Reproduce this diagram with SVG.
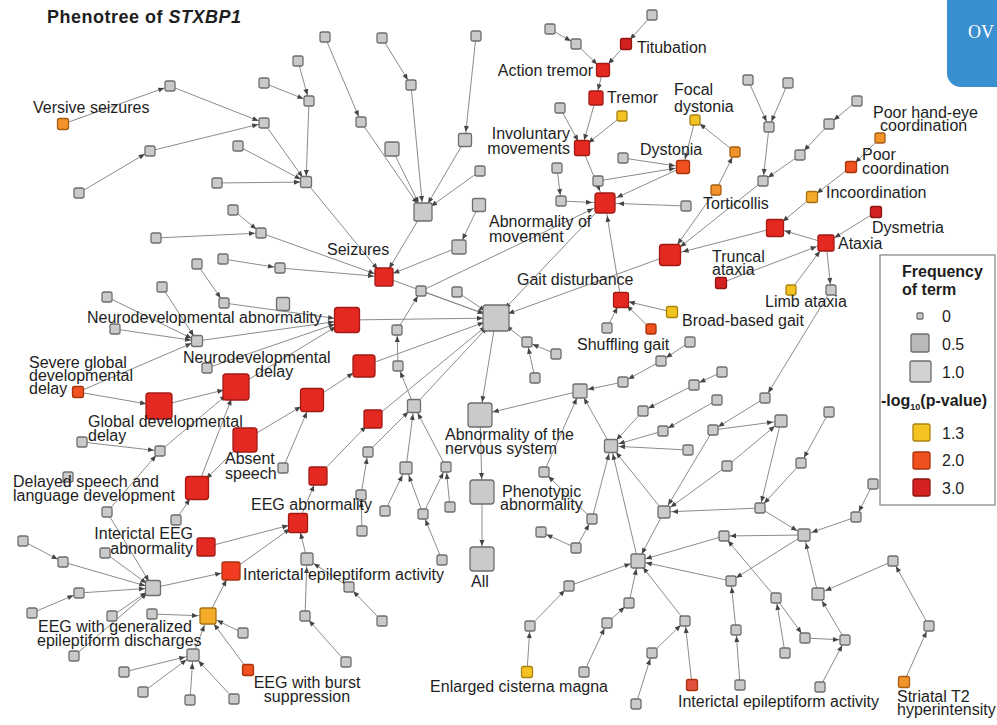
<svg xmlns="http://www.w3.org/2000/svg" width="997" height="725" viewBox="0 0 997 725">
<style>
.e line{stroke:#8c8c8c;stroke-width:1;fill:none}
.a5{marker-end:url(#m5)}.a7{marker-end:url(#m7)}.a9{marker-end:url(#m9)}.a12{marker-end:url(#m12)}
rect{stroke-width:1.3}
.g{fill:#cacaca;stroke:#6e6e6e}
.r{fill:#e42a20;stroke:#a31a14}
.rd{fill:#d42222;stroke:#8e1510}
.ro{fill:#f0521f;stroke:#a8320e}
.o{fill:#f2922a;stroke:#a85e12}
.oy{fill:#f4ab2a;stroke:#a87212}
.y{fill:#f4c322;stroke:#a88410}
.t{font-family:"Liberation Sans",Arial,Helvetica,sans-serif;font-size:16px;fill:#1e1e1e}
.tb{font-family:"Liberation Sans",Arial,Helvetica,sans-serif;font-size:16px;font-weight:bold;fill:#1e1e1e}
.end{text-anchor:end}
</style>
<defs>
<marker id="m5" markerUnits="userSpaceOnUse" markerWidth="6" markerHeight="5" refX="12" refY="2.5" orient="auto" overflow="visible"><path d="M0,0L6,2.5L0,5z" fill="#444"/></marker>
<marker id="m7" markerUnits="userSpaceOnUse" markerWidth="6" markerHeight="5" refX="14" refY="2.5" orient="auto" overflow="visible"><path d="M0,0L6,2.5L0,5z" fill="#444"/></marker>
<marker id="m9" markerUnits="userSpaceOnUse" markerWidth="6" markerHeight="5" refX="16" refY="2.5" orient="auto" overflow="visible"><path d="M0,0L6,2.5L0,5z" fill="#444"/></marker>
<marker id="m12" markerUnits="userSpaceOnUse" markerWidth="6" markerHeight="5" refX="19" refY="2.5" orient="auto" overflow="visible"><path d="M0,0L6,2.5L0,5z" fill="#444"/></marker>
</defs>
<rect x="0" y="0" width="997" height="725" fill="#ffffff"/>
<g id="badge"><rect x="947" y="-14" width="64" height="101" rx="14" fill="#3a8fcf" stroke="none"/><text x="968" y="38" style="font-family:'Liberation Serif',serif;font-size:18px;fill:#ffffff">OV</text></g>
<text x="47" y="23" class="tb" style="font-size:18px;letter-spacing:0.5px">Phenotree of <tspan font-style="italic">STXBP1</tspan></text>

<g id="edges" class="e">
<g class="a5">
<line x1="63" y1="124" x2="170" y2="86"/><line x1="170" y1="86" x2="264" y2="123"/><line x1="150" y1="151" x2="264" y2="123"/><line x1="79" y1="193" x2="150" y2="151"/>
<line x1="238" y1="146" x2="306" y2="182"/><line x1="217" y1="183" x2="306" y2="182"/><line x1="264" y1="123" x2="306" y2="182"/><line x1="309" y1="101" x2="306" y2="182"/>
<line x1="298" y1="61" x2="309" y2="101"/><line x1="264" y1="83" x2="309" y2="101"/><line x1="233" y1="210" x2="261" y2="233"/><line x1="156" y1="238" x2="261" y2="233"/>
<line x1="325" y1="37" x2="361" y2="122"/><line x1="382" y1="38" x2="411" y2="85"/><line x1="223" y1="259" x2="280" y2="268"/><line x1="397" y1="330" x2="421" y2="291"/>
<line x1="398" y1="366" x2="397" y2="330"/><line x1="414" y1="406" x2="398" y2="366"/><line x1="361" y1="495" x2="368" y2="452"/><line x1="362" y1="531" x2="361" y2="495"/>
<line x1="423" y1="514" x2="446" y2="467"/><line x1="450" y1="507" x2="446" y2="467"/><line x1="442" y1="560" x2="423" y2="514"/>
<line x1="162" y1="287" x2="197" y2="341"/><line x1="107" y1="297" x2="197" y2="341"/><line x1="115" y1="329" x2="197" y2="341"/><line x1="78" y1="392" x2="197" y2="341"/>
<line x1="197" y1="264" x2="224" y2="303"/><line x1="82" y1="442" x2="160" y2="451"/><line x1="107" y1="512" x2="160" y2="451"/>
<line x1="382" y1="621" x2="349" y2="587"/><line x1="346" y1="662" x2="305" y2="616"/><line x1="23" y1="541" x2="63" y2="562"/><line x1="32" y1="613" x2="79" y2="593"/>
<line x1="550" y1="29" x2="576" y2="44"/><line x1="652" y1="15" x2="626" y2="44"/><line x1="557" y1="168" x2="561" y2="201"/><line x1="735" y1="152" x2="695" y2="120"/><line x1="716" y1="190" x2="735" y2="152"/>
<line x1="748" y1="80" x2="769" y2="127"/><line x1="788" y1="83" x2="769" y2="127"/><line x1="769" y1="127" x2="763" y2="181"/><line x1="857" y1="101" x2="829" y2="124"/><line x1="829" y1="124" x2="800" y2="155"/><line x1="800" y1="155" x2="763" y2="181"/>
<line x1="880" y1="138" x2="851" y2="167"/><line x1="851" y1="167" x2="812" y2="197"/><line x1="826" y1="243" x2="831" y2="290"/><line x1="831" y1="290" x2="765" y2="398"/><line x1="765" y1="398" x2="713" y2="430"/>
<line x1="556" y1="354" x2="527" y2="342"/><line x1="535" y1="378" x2="527" y2="342"/><line x1="690" y1="342" x2="661" y2="361"/><line x1="661" y1="361" x2="623" y2="382"/>
<line x1="722" y1="372" x2="694" y2="385"/><line x1="694" y1="385" x2="643" y2="411"/><line x1="717" y1="400" x2="663" y2="431"/>
<line x1="592" y1="519" x2="544" y2="472"/><line x1="576" y1="548" x2="592" y2="519"/><line x1="576" y1="548" x2="541" y2="532"/>
<line x1="530" y1="626" x2="569" y2="586"/><line x1="527" y1="672" x2="530" y2="626"/><line x1="607" y1="623" x2="629" y2="603"/><line x1="584" y1="672" x2="607" y2="623"/>
<line x1="652" y1="653" x2="685" y2="621"/><line x1="636" y1="704" x2="652" y2="653"/><line x1="692" y1="685" x2="685" y2="621"/><line x1="740" y1="685" x2="736" y2="630"/><line x1="736" y1="630" x2="731" y2="581"/>
<line x1="804" y1="535" x2="731" y2="581"/><line x1="804" y1="535" x2="724" y2="536"/><line x1="776" y1="598" x2="724" y2="536"/><line x1="781" y1="421" x2="760" y2="508"/><line x1="801" y1="463" x2="760" y2="508"/><line x1="829" y1="412" x2="801" y2="463"/>
<line x1="873" y1="484" x2="856" y2="517"/><line x1="929" y1="626" x2="893" y2="561"/><line x1="904" y1="682" x2="929" y2="626"/><line x1="805" y1="638" x2="845" y2="640"/><line x1="820" y1="687" x2="845" y2="640"/><line x1="776" y1="598" x2="805" y2="638"/><line x1="785" y1="653" x2="776" y2="598"/>
</g>
<g class="a7">
<line x1="476" y1="36" x2="465" y2="140"/><line x1="479" y1="205" x2="459" y2="247"/><line x1="406" y1="468" x2="414" y2="406"/><line x1="446" y1="467" x2="414" y2="406"/><line x1="368" y1="452" x2="414" y2="406"/>
<line x1="385" y1="511" x2="406" y2="468"/><line x1="423" y1="514" x2="406" y2="468"/><line x1="349" y1="587" x2="307" y2="559"/><line x1="305" y1="616" x2="307" y2="559"/>
<line x1="124" y1="672" x2="193" y2="655"/><line x1="143" y1="692" x2="193" y2="655"/><line x1="190" y1="700" x2="193" y2="655"/><line x1="234" y1="699" x2="193" y2="655"/>
<line x1="107" y1="512" x2="153" y2="588"/><line x1="63" y1="562" x2="153" y2="588"/><line x1="105" y1="553" x2="153" y2="588"/><line x1="79" y1="593" x2="153" y2="588"/><line x1="112" y1="616" x2="153" y2="588"/><line x1="74" y1="656" x2="153" y2="588"/>
<line x1="576" y1="44" x2="603" y2="70"/><line x1="626" y1="44" x2="603" y2="70"/><line x1="603" y1="70" x2="596" y2="98"/><line x1="596" y1="98" x2="582" y2="148"/><line x1="560" y1="108" x2="582" y2="148"/><line x1="622" y1="116" x2="582" y2="148"/>
<line x1="598" y1="181" x2="683" y2="167"/><line x1="623" y1="158" x2="683" y2="167"/><line x1="695" y1="120" x2="683" y2="167"/>
<line x1="672" y1="312" x2="621" y2="300"/><line x1="607" y1="328" x2="621" y2="300"/><line x1="651" y1="329" x2="621" y2="300"/>
<line x1="623" y1="382" x2="580" y2="391"/><line x1="643" y1="411" x2="611" y2="446"/><line x1="663" y1="431" x2="611" y2="446"/><line x1="688" y1="450" x2="611" y2="446"/><line x1="611" y1="446" x2="580" y2="391"/><line x1="544" y1="472" x2="580" y2="391"/>
<line x1="592" y1="519" x2="611" y2="446"/><line x1="664" y1="512" x2="611" y2="446"/><line x1="638" y1="561" x2="611" y2="446"/><line x1="664" y1="512" x2="638" y2="561"/><line x1="724" y1="536" x2="638" y2="561"/><line x1="731" y1="581" x2="638" y2="561"/>
<line x1="569" y1="586" x2="638" y2="561"/><line x1="629" y1="603" x2="638" y2="561"/><line x1="685" y1="621" x2="638" y2="561"/><line x1="760" y1="508" x2="664" y2="512"/><line x1="713" y1="430" x2="664" y2="512"/><line x1="727" y1="466" x2="664" y2="512"/>
<line x1="713" y1="430" x2="781" y2="421"/><line x1="727" y1="466" x2="781" y2="421"/><line x1="856" y1="517" x2="804" y2="535"/><line x1="818" y1="594" x2="804" y2="535"/><line x1="760" y1="508" x2="804" y2="535"/><line x1="893" y1="561" x2="818" y2="594"/><line x1="845" y1="640" x2="818" y2="594"/>
</g>
<g class="a9">
<line x1="261" y1="233" x2="384" y2="277"/><line x1="306" y1="182" x2="384" y2="277"/><line x1="423" y1="212" x2="384" y2="277"/><line x1="361" y1="122" x2="423" y2="212"/><line x1="411" y1="85" x2="423" y2="212"/>
<line x1="392" y1="149" x2="423" y2="212"/><line x1="465" y1="140" x2="423" y2="212"/><line x1="480" y1="171" x2="423" y2="212"/><line x1="459" y1="247" x2="384" y2="277"/><line x1="280" y1="268" x2="384" y2="277"/>
<line x1="318" y1="476" x2="373" y2="419"/><line x1="298" y1="523" x2="318" y2="476"/><line x1="307" y1="559" x2="298" y2="523"/><line x1="206" y1="547" x2="298" y2="523"/><line x1="231" y1="571" x2="298" y2="523"/>
<line x1="153" y1="588" x2="231" y2="571"/><line x1="208" y1="616" x2="231" y2="571"/><line x1="152" y1="614" x2="208" y2="616"/><line x1="243" y1="633" x2="208" y2="616"/><line x1="248" y1="670" x2="208" y2="616"/><line x1="193" y1="655" x2="208" y2="616"/>
<line x1="812" y1="197" x2="775" y2="228"/><line x1="876" y1="212" x2="826" y2="243"/><line x1="826" y1="243" x2="775" y2="228"/><line x1="721" y1="283" x2="826" y2="243"/><line x1="791" y1="290" x2="826" y2="243"/>
</g>
<g class="a12">
<line x1="384" y1="277" x2="496" y2="318"/><line x1="421" y1="291" x2="496" y2="318"/><line x1="457" y1="292" x2="496" y2="318"/><line x1="414" y1="406" x2="496" y2="318"/><line x1="347" y1="320" x2="496" y2="318"/>
<line x1="197" y1="341" x2="347" y2="320"/><line x1="207" y1="368" x2="347" y2="320"/><line x1="224" y1="303" x2="347" y2="320"/><line x1="236" y1="387" x2="347" y2="320"/>
<line x1="78" y1="392" x2="159" y2="406"/><line x1="159" y1="406" x2="236" y2="387"/><line x1="160" y1="451" x2="236" y2="387"/><line x1="197" y1="488" x2="236" y2="387"/><line x1="245" y1="440" x2="197" y2="488"/><line x1="176" y1="520" x2="197" y2="488"/>
<line x1="245" y1="440" x2="312" y2="400"/><line x1="283" y1="468" x2="312" y2="400"/><line x1="312" y1="400" x2="364" y2="366"/><line x1="364" y1="366" x2="496" y2="318"/><line x1="373" y1="419" x2="496" y2="318"/>
<line x1="582" y1="148" x2="605" y2="203"/><line x1="561" y1="201" x2="605" y2="203"/><line x1="683" y1="167" x2="605" y2="203"/><line x1="686" y1="206" x2="605" y2="203"/><line x1="621" y1="300" x2="605" y2="203"/><line x1="421" y1="291" x2="605" y2="203"/>
<line x1="716" y1="190" x2="670" y2="255"/><line x1="763" y1="181" x2="670" y2="255"/><line x1="775" y1="228" x2="670" y2="255"/><line x1="670" y1="255" x2="496" y2="318"/><line x1="605" y1="203" x2="496" y2="318"/><line x1="527" y1="342" x2="496" y2="318"/>
<line x1="496" y1="318" x2="480" y2="415"/><line x1="480" y1="415" x2="482" y2="492"/><line x1="482" y1="492" x2="482" y2="559"/><line x1="580" y1="391" x2="480" y2="415"/>
</g>
</g>

<g id="nodes">
<g id="n-a1"><rect class="g" x="165" y="81" width="10" height="10" rx="2"/></g>
<g id="n-a3"><rect class="g" x="145" y="146" width="10" height="10" rx="2"/></g>
<g id="n-a4"><rect class="g" x="74" y="188" width="10" height="10" rx="2"/></g>
<g id="n-a5"><rect class="g" x="233" y="141" width="10" height="10" rx="2"/></g>
<g id="n-a6"><rect class="g" x="212" y="178" width="10" height="10" rx="2"/></g>
<g id="n-a7"><rect class="g" x="228" y="205" width="10" height="10" rx="2"/></g>
<g id="n-a8"><rect class="g" x="151" y="233" width="10" height="10" rx="2"/></g>
<g id="n-b1"><rect class="g" x="320" y="32" width="10" height="10" rx="2"/></g>
<g id="n-b2"><rect class="g" x="377" y="33" width="10" height="10" rx="2"/></g>
<g id="n-b3"><rect class="g" x="471" y="31" width="10" height="10" rx="2"/></g>
<g id="n-b4"><rect class="g" x="293" y="56" width="10" height="10" rx="2"/></g>
<g id="n-b5"><rect class="g" x="259" y="78" width="10" height="10" rx="2"/></g>
<g id="n-b6"><rect class="g" x="304" y="96" width="10" height="10" rx="2"/></g>
<g id="n-b7"><rect class="g" x="259" y="118" width="10" height="10" rx="2"/></g>
<g id="n-b8"><rect class="g" x="356" y="117" width="10" height="10" rx="2"/></g>
<g id="n-b9"><rect class="g" x="406" y="80" width="10" height="10" rx="2"/></g>
<g id="n-b10"><rect class="g" x="385" y="142" width="14" height="14" rx="2"/></g>
<g id="n-b11"><rect class="g" x="458.5" y="133.5" width="13" height="13" rx="2"/></g>
<g id="n-b12"><rect class="g" x="475" y="166" width="10" height="10" rx="2"/></g>
<g id="n-b13"><rect class="g" x="300.5" y="176.5" width="11" height="11" rx="2"/></g>
<g id="n-b14"><rect class="g" x="414" y="203" width="18" height="18" rx="2"/></g>
<g id="n-b15"><rect class="g" x="472.5" y="198.5" width="13" height="13" rx="2"/></g>
<g id="n-b16"><rect class="g" x="256" y="228" width="10" height="10" rx="2"/></g>
<g id="n-247"><rect class="g" x="452" y="240" width="14" height="14" rx="2"/></g>
<g id="n-268"><rect class="g" x="275" y="263" width="10" height="10" rx="2"/></g>
<g id="n-304"><rect class="g" x="276.5" y="297.5" width="13" height="13" rx="2"/></g>
<g id="n-291"><rect class="g" x="416" y="286" width="10" height="10" rx="2"/></g>
<g id="n-292"><rect class="g" x="452" y="287" width="10" height="10" rx="2"/></g>
<g id="n-330"><rect class="g" x="392" y="325" width="10" height="10" rx="2"/></g>
<g id="n-366"><rect class="g" x="393" y="361" width="10" height="10" rx="2"/></g>
<g id="n-406"><rect class="g" x="407.5" y="399.5" width="13" height="13" rx="2"/></g>
<g id="n-452"><rect class="g" x="363" y="447" width="10" height="10" rx="2"/></g>
<g id="n-468"><rect class="g" x="400" y="462" width="12" height="12" rx="2"/></g>
<g id="n-467"><rect class="g" x="441" y="462" width="10" height="10" rx="2"/></g>
<g id="n-468b"><rect class="g" x="278" y="463" width="10" height="10" rx="2"/></g>
<g id="n-i1"><rect class="g" x="218" y="254" width="10" height="10" rx="2"/></g>
<g id="n-i2"><rect class="g" x="192" y="259" width="10" height="10" rx="2"/></g>
<g id="n-i3"><rect class="g" x="157" y="282" width="10" height="10" rx="2"/></g>
<g id="n-i4"><rect class="g" x="102" y="292" width="10" height="10" rx="2"/></g>
<g id="n-i5"><rect class="g" x="219" y="298" width="10" height="10" rx="2"/></g>
<g id="n-i6"><rect class="g" x="110" y="324" width="10" height="10" rx="2"/></g>
<g id="n-i7"><rect class="g" x="191.5" y="335.5" width="11" height="11" rx="2"/></g>
<g id="n-i8"><rect class="g" x="202" y="363" width="10" height="10" rx="2"/></g>
<g id="n-i12"><rect class="g" x="77" y="437" width="10" height="10" rx="2"/></g>
<g id="n-i13"><rect class="g" x="155" y="446" width="10" height="10" rx="2"/></g>
<g id="n-i14"><rect class="g" x="63" y="472" width="10" height="10" rx="2"/></g>
<g id="n-j1"><rect class="g" x="102" y="507" width="10" height="10" rx="2"/></g>
<g id="n-j2"><rect class="g" x="171" y="515" width="10" height="10" rx="2"/></g>
<g id="n-j3"><rect class="g" x="18" y="536" width="10" height="10" rx="2"/></g>
<g id="n-j4"><rect class="g" x="58" y="557" width="10" height="10" rx="2"/></g>
<g id="n-j5"><rect class="g" x="100" y="548" width="10" height="10" rx="2"/></g>
<g id="n-j6"><rect class="g" x="145.5" y="580.5" width="15" height="15" rx="2"/></g>
<g id="n-j7"><rect class="g" x="74" y="588" width="10" height="10" rx="2"/></g>
<g id="n-j8"><rect class="g" x="27" y="608" width="10" height="10" rx="2"/></g>
<g id="n-j9"><rect class="g" x="107" y="611" width="10" height="10" rx="2"/></g>
<g id="n-j10"><rect class="g" x="147" y="609" width="10" height="10" rx="2"/></g>
<g id="n-j12"><rect class="g" x="238" y="628" width="10" height="10" rx="2"/></g>
<g id="n-j13"><rect class="g" x="69" y="651" width="10" height="10" rx="2"/></g>
<g id="n-j14"><rect class="g" x="187" y="649" width="12" height="12" rx="2"/></g>
<g id="n-j15"><rect class="g" x="119" y="667" width="10" height="10" rx="2"/></g>
<g id="n-j16"><rect class="g" x="138" y="687" width="10" height="10" rx="2"/></g>
<g id="n-j17"><rect class="g" x="185" y="695" width="10" height="10" rx="2"/></g>
<g id="n-j18"><rect class="g" x="229" y="694" width="10" height="10" rx="2"/></g>
<g id="n-k2"><rect class="g" x="356" y="490" width="10" height="10" rx="2"/></g>
<g id="n-k4"><rect class="g" x="380" y="506" width="10" height="10" rx="2"/></g>
<g id="n-k5"><rect class="g" x="418" y="509" width="10" height="10" rx="2"/></g>
<g id="n-k6"><rect class="g" x="445" y="502" width="10" height="10" rx="2"/></g>
<g id="n-k7"><rect class="g" x="357" y="526" width="10" height="10" rx="2"/></g>
<g id="n-k8"><rect class="g" x="301" y="553" width="12" height="12" rx="2"/></g>
<g id="n-k9"><rect class="g" x="437" y="555" width="10" height="10" rx="2"/></g>
<g id="n-k10"><rect class="g" x="344" y="582" width="10" height="10" rx="2"/></g>
<g id="n-k11"><rect class="g" x="300" y="611" width="10" height="10" rx="2"/></g>
<g id="n-k12"><rect class="g" x="377" y="616" width="10" height="10" rx="2"/></g>
<g id="n-k13"><rect class="g" x="341" y="657" width="10" height="10" rx="2"/></g>
<g id="n-c1"><rect class="g" x="545" y="24" width="10" height="10" rx="2"/></g>
<g id="n-c2"><rect class="g" x="571" y="39" width="10" height="10" rx="2"/></g>
<g id="n-c3"><rect class="g" x="647" y="10" width="10" height="10" rx="2"/></g>
<g id="n-c7"><rect class="g" x="555" y="103" width="10" height="10" rx="2"/></g>
<g id="n-c11"><rect class="g" x="743" y="75" width="10" height="10" rx="2"/></g>
<g id="n-c14"><rect class="g" x="618" y="153" width="10" height="10" rx="2"/></g>
<g id="n-c15"><rect class="g" x="552" y="163" width="10" height="10" rx="2"/></g>
<g id="n-c16"><rect class="g" x="593" y="176" width="10" height="10" rx="2"/></g>
<g id="n-c17"><rect class="g" x="556" y="196" width="10" height="10" rx="2"/></g>
<g id="n-c19"><rect class="g" x="681" y="201" width="10" height="10" rx="2"/></g>
<g id="n-d2"><rect class="g" x="783" y="78" width="10" height="10" rx="2"/></g>
<g id="n-d3"><rect class="g" x="764" y="122" width="10" height="10" rx="2"/></g>
<g id="n-d4"><rect class="g" x="852" y="96" width="10" height="10" rx="2"/></g>
<g id="n-d5"><rect class="g" x="824" y="119" width="10" height="10" rx="2"/></g>
<g id="n-d6"><rect class="g" x="795" y="150" width="10" height="10" rx="2"/></g>
<g id="n-d7"><rect class="g" x="758" y="176" width="10" height="10" rx="2"/></g>
<g id="n-f2"><rect class="g" x="826" y="285" width="10" height="10" rx="2"/></g>
<g id="n-f3"><rect class="g" x="760" y="393" width="10" height="10" rx="2"/></g>
<g id="n-f4"><rect class="g" x="775" y="415" width="12" height="12" rx="2"/></g>
<g id="n-f5"><rect class="g" x="824" y="407" width="10" height="10" rx="2"/></g>
<g id="n-f6"><rect class="g" x="796" y="458" width="10" height="10" rx="2"/></g>
<g id="n-e5"><rect class="g" x="602" y="323" width="10" height="10" rx="2"/></g>
<g id="n-e8"><rect class="g" x="522" y="337" width="10" height="10" rx="2"/></g>
<g id="n-e9"><rect class="g" x="551" y="349" width="10" height="10" rx="2"/></g>
<g id="n-e10"><rect class="g" x="530" y="373" width="10" height="10" rx="2"/></g>
<g id="n-e11"><rect class="g" x="685" y="337" width="10" height="10" rx="2"/></g>
<g id="n-e12"><rect class="g" x="656" y="356" width="10" height="10" rx="2"/></g>
<g id="n-e13"><rect class="g" x="618" y="377" width="10" height="10" rx="2"/></g>
<g id="n-e14"><rect class="g" x="573" y="384" width="14" height="14" rx="2"/></g>
<g id="n-e15"><rect class="g" x="717" y="367" width="10" height="10" rx="2"/></g>
<g id="n-e16"><rect class="g" x="689" y="380" width="10" height="10" rx="2"/></g>
<g id="n-e17"><rect class="g" x="712" y="395" width="10" height="10" rx="2"/></g>
<g id="n-e18"><rect class="g" x="638" y="406" width="10" height="10" rx="2"/></g>
<g id="n-e19"><rect class="g" x="658" y="426" width="10" height="10" rx="2"/></g>
<g id="n-e20"><rect class="g" x="708" y="425" width="10" height="10" rx="2"/></g>
<g id="n-e21"><rect class="g" x="604.5" y="439.5" width="13" height="13" rx="2"/></g>
<g id="n-e22"><rect class="g" x="683" y="445" width="10" height="10" rx="2"/></g>
<g id="n-e23"><rect class="g" x="722" y="461" width="10" height="10" rx="2"/></g>
<g id="n-e24"><rect class="g" x="539" y="467" width="10" height="10" rx="2"/></g>
<g id="n-h1"><rect class="g" x="587" y="514" width="10" height="10" rx="2"/></g>
<g id="n-h2"><rect class="g" x="536" y="527" width="10" height="10" rx="2"/></g>
<g id="n-h3"><rect class="g" x="571" y="543" width="10" height="10" rx="2"/></g>
<g id="n-h4"><rect class="g" x="658" y="506" width="12" height="12" rx="2"/></g>
<g id="n-h5"><rect class="g" x="719" y="531" width="10" height="10" rx="2"/></g>
<g id="n-h6"><rect class="g" x="631" y="554" width="14" height="14" rx="2"/></g>
<g id="n-h7"><rect class="g" x="726" y="576" width="10" height="10" rx="2"/></g>
<g id="n-h8"><rect class="g" x="564" y="581" width="10" height="10" rx="2"/></g>
<g id="n-h9"><rect class="g" x="624" y="598" width="10" height="10" rx="2"/></g>
<g id="n-h10"><rect class="g" x="525" y="621" width="10" height="10" rx="2"/></g>
<g id="n-h11"><rect class="g" x="602" y="618" width="10" height="10" rx="2"/></g>
<g id="n-h12"><rect class="g" x="680" y="616" width="10" height="10" rx="2"/></g>
<g id="n-h13"><rect class="g" x="647" y="648" width="10" height="10" rx="2"/></g>
<g id="n-h14"><rect class="g" x="731" y="625" width="10" height="10" rx="2"/></g>
<g id="n-h16"><rect class="g" x="579" y="667" width="10" height="10" rx="2"/></g>
<g id="n-h18"><rect class="g" x="631" y="699" width="10" height="10" rx="2"/></g>
<g id="n-h19"><rect class="g" x="735" y="680" width="10" height="10" rx="2"/></g>
<g id="n-g1"><rect class="g" x="868" y="479" width="10" height="10" rx="2"/></g>
<g id="n-g2"><rect class="g" x="755" y="503" width="10" height="10" rx="2"/></g>
<g id="n-g3"><rect class="g" x="851" y="512" width="10" height="10" rx="2"/></g>
<g id="n-g4"><rect class="g" x="798" y="529" width="12" height="12" rx="2"/></g>
<g id="n-g5"><rect class="g" x="888" y="556" width="10" height="10" rx="2"/></g>
<g id="n-g6"><rect class="g" x="771" y="593" width="10" height="10" rx="2"/></g>
<g id="n-g7"><rect class="g" x="812" y="588" width="12" height="12" rx="2"/></g>
<g id="n-g8"><rect class="g" x="924" y="621" width="10" height="10" rx="2"/></g>
<g id="n-g9"><rect class="g" x="800" y="633" width="10" height="10" rx="2"/></g>
<g id="n-g10"><rect class="g" x="840" y="635" width="10" height="10" rx="2"/></g>
<g id="n-g11"><rect class="g" x="780" y="648" width="10" height="10" rx="2"/></g>
<g id="n-g12"><rect class="g" x="815" y="682" width="10" height="10" rx="2"/></g>
<g id="n-hub"><rect class="g" x="483" y="305" width="26" height="26" rx="3"/></g>
<g id="n-ns"><rect class="g" x="468" y="403" width="24" height="24" rx="3"/><text class="t" x="445" y="440">Abnormality of the</text><text class="t" x="445" y="454">nervous system</text></g>
<g id="n-pa"><rect class="g" x="470" y="480" width="24" height="24" rx="3"/><text class="t" x="502" y="497">Phenotypic</text><text class="t" x="500" y="510">abnormality</text></g>
<g id="n-all"><rect class="g" x="470" y="547" width="24" height="24" rx="3"/><text class="t" x="471" y="587">All</text></g>

<g id="n-versive"><rect class="o" x="57.5" y="118.5" width="11" height="11" rx="2"/><text class="t" x="33" y="113">Versive seizures</text></g>
<g id="n-titubation"><rect class="rd" x="620.5" y="38.5" width="11" height="11" rx="2"/><text class="t" x="637" y="53">Titubation</text></g>
<g id="n-actiontremor"><rect class="r" x="596.5" y="63.5" width="13" height="13" rx="2"/><text class="t end" x="593" y="76">Action tremor</text></g>
<g id="n-tremor"><rect class="r" x="589" y="91" width="14" height="14" rx="2"/><text class="t" x="607" y="103">Tremor</text></g>
<g id="n-c8"><rect class="y" x="617" y="111" width="10" height="10" rx="2"/></g>
<g id="n-involuntary"><rect class="r" x="574.5" y="140.5" width="15" height="15" rx="2"/><text class="t end" x="570" y="139">Involuntary</text><text class="t end" x="570" y="154">movements</text></g>
<g id="n-focaldystonia"><rect class="y" x="690" y="115" width="10" height="10" rx="2"/><text class="t" x="674" y="95">Focal</text><text class="t" x="674" y="112">dystonia</text></g>
<g id="n-c12"><rect class="o" x="730" y="147" width="10" height="10" rx="2"/></g>
<g id="n-dystonia"><rect class="ro" x="676.5" y="160.5" width="13" height="13" rx="2"/><text class="t" x="640" y="155">Dystonia</text></g>
<g id="n-torticollis"><rect class="o" x="711" y="185" width="10" height="10" rx="2"/><text class="t" x="703" y="209">Torticollis</text></g>
<g id="n-abnmovement"><rect class="r" x="595" y="193" width="20" height="20" rx="3"/><text class="t" x="489" y="227">Abnormality of</text><text class="t" x="489" y="242">movement</text></g>
<g id="n-pooreye"><rect class="o" x="875" y="133" width="10" height="10" rx="2"/><text class="t" x="873" y="118">Poor hand-eye</text><text class="t" x="880" y="131">coordination</text></g>
<g id="n-poorcoord"><rect class="ro" x="845.5" y="161.5" width="11" height="11" rx="2"/><text class="t" x="862" y="160">Poor</text><text class="t" x="862" y="174">coordination</text></g>
<g id="n-incoord"><rect class="oy" x="806.5" y="191.5" width="11" height="11" rx="2"/><text class="t" x="826" y="198">Incoordination</text></g>
<g id="n-dysmetria"><rect class="rd" x="870.5" y="206.5" width="11" height="11" rx="2"/><text class="t" x="872" y="233">Dysmetria</text></g>
<g id="n-d12"><rect class="r" x="766.5" y="219.5" width="17" height="17" rx="2"/></g>
<g id="n-ataxia"><rect class="r" x="818" y="235" width="16" height="16" rx="2"/><text class="t" x="838" y="249">Ataxia</text></g>
<g id="n-e1"><rect class="r" x="659.5" y="244.5" width="21" height="21" rx="3"/></g>
<g id="n-truncal"><rect class="rd" x="715.5" y="277.5" width="11" height="11" rx="2"/><text class="t" x="712" y="262">Truncal</text><text class="t" x="712" y="275">ataxia</text></g>
<g id="n-limb"><rect class="y" x="786" y="285" width="10" height="10" rx="2"/><text class="t" x="765" y="307">Limb ataxia</text></g>
<g id="n-gait"><rect class="r" x="613.5" y="292.5" width="15" height="15" rx="2"/><text class="t" x="517" y="285">Gait disturbance</text></g>
<g id="n-broad"><rect class="y" x="666.5" y="306.5" width="11" height="11" rx="2"/><text class="t" x="682" y="326">Broad-based gait</text></g>
<g id="n-shuffling"><rect class="ro" x="646" y="324" width="10" height="10" rx="2"/><text class="t" x="577" y="350">Shuffling gait</text></g>
<g id="n-seizures"><rect class="r" x="375" y="268" width="18" height="18" rx="2"/><text class="t" x="327" y="255">Seizures</text></g>
<g id="n-neuroabn"><rect class="r" x="334.5" y="307.5" width="25" height="25" rx="3"/><text class="t" x="87" y="323">Neurodevelopmental abnormality</text></g>
<g id="n-r366"><rect class="r" x="353" y="355" width="22" height="22" rx="3"/></g>
<g id="n-r400"><rect class="r" x="300.5" y="388.5" width="23" height="23" rx="3"/></g>
<g id="n-r419"><rect class="r" x="364" y="410" width="18" height="18" rx="2"/></g>
<g id="n-r476"><rect class="r" x="309" y="467" width="18" height="18" rx="2"/></g>
<g id="n-ndd"><rect class="r" x="223" y="374" width="26" height="26" rx="3"/><text class="t" x="183" y="363">Neurodevelopmental</text><text class="t" x="255" y="377">delay</text></g>
<g id="n-gdd"><rect class="r" x="146" y="393" width="26" height="26" rx="3"/><text class="t" x="88" y="427">Global developmental</text><text class="t" x="88" y="441">delay</text></g>
<g id="n-severe"><rect class="ro" x="72.5" y="386.5" width="11" height="11" rx="2"/><text class="t" x="29" y="368">Severe global</text><text class="t" x="29" y="381">developmental</text><text class="t" x="29" y="394">delay</text></g>
<g id="n-absent"><rect class="r" x="233" y="428" width="24" height="24" rx="3"/><text class="t" x="225" y="464">Absent</text><text class="t" x="225" y="479">speech</text></g>
<g id="n-delayed"><rect class="r" x="185.5" y="476.5" width="23" height="23" rx="3"/><text class="t" x="13" y="487">Delayed speech and</text><text class="t" x="13" y="501">language development</text></g>
<g id="n-eegabn"><rect class="r" x="288.5" y="513.5" width="19" height="19" rx="2"/><text class="t" x="251" y="510">EEG abnormality</text></g>
<g id="n-intereeg"><rect class="r" x="197" y="538" width="18" height="18" rx="2"/><text class="t end" x="193" y="539">Interictal EEG</text><text class="t end" x="193" y="554">abnormality</text></g>
<g id="n-interepi"><rect class="ro" x="222" y="562" width="18" height="18" rx="2" style="fill:#f23c22"/><text class="t" x="243" y="580">Interictal epileptiform activity</text></g>
<g id="n-eeggen"><rect class="oy" x="200" y="608" width="16" height="16" rx="2"/><text class="t" x="38" y="632">EEG with generalized</text><text class="t" x="37" y="646">epileptiform discharges</text></g>
<g id="n-burst"><rect class="ro" x="242.5" y="664.5" width="11" height="11" rx="2"/><text class="t" x="307" y="688" text-anchor="middle">EEG with burst</text><text class="t" x="307" y="702" text-anchor="middle">suppression</text></g>
<g id="n-cisterna"><rect class="y" x="521.5" y="666.5" width="11" height="11" rx="2"/><text class="t end" x="608" y="692">Enlarged cisterna magna</text></g>
<g id="n-interepi2"><rect class="ro" x="686.5" y="679.5" width="11" height="11" rx="2" style="fill:#e0503c"/><text class="t" x="678" y="707">Interictal epileptiform activity</text></g>
<g id="n-striatal"><rect class="o" x="898.5" y="676.5" width="11" height="11" rx="2"/><text class="t" x="897" y="702">Striatal T2</text><text class="t" x="897" y="715">hyperintensity</text></g>
</g>

<g id="legend">
<rect x="880" y="255" width="115" height="250" fill="#ffffff" stroke="#8a8a8a" stroke-width="1.5"/>
<text class="tb" x="902" y="277">Frequency</text>
<text class="tb" x="902" y="295">of term</text>
<rect class="g" x="917" y="313" width="6" height="6" rx="1"/><text class="t" x="942" y="322">0</text>
<rect x="911" y="334" width="18" height="18" rx="2" fill="#b9b9b9" stroke="#6e6e6e" stroke-width="1.3"/><text class="t" x="942" y="350">0.5</text>
<rect class="g" x="910" y="361" width="21" height="21" rx="2" style="fill:#d2d2d2"/><text class="t" x="942" y="378">1.0</text>
<text class="tb" x="881" y="406">-log<tspan dy="4" style="font-size:9px">10</tspan><tspan dy="-4">(p-value)</tspan></text>
<rect class="y" x="913" y="424" width="17" height="17" rx="2"/><text class="t" x="942" y="439">1.3</text>
<rect class="ro" x="913" y="452" width="17" height="17" rx="2"/><text class="t" x="942" y="466">2.0</text>
<rect class="rd" x="913" y="479" width="17" height="17" rx="2"/><text class="t" x="942" y="494">3.0</text>
</g>
</svg>
